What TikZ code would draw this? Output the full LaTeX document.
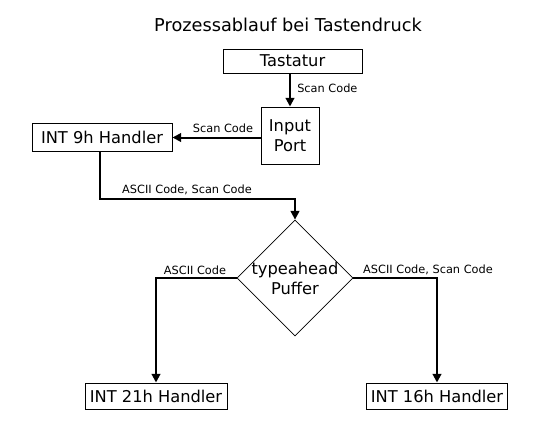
\documentclass[tikz,border=0pt]{standalone}
\usepackage{fontspec}
\setmainfont{DejaVu Sans}
\usetikzlibrary{shapes.geometric,arrows.meta}
\begin{document}
\begin{tikzpicture}[x=0.75pt,y=-0.75pt,
  box/.style={draw,line width=0.75pt,inner sep=0pt,align=center,font=\fontsize{12.2}{15}\selectfont},
  lbl/.style={inner sep=0pt,font=\fontsize{8.5}{10}\selectfont},
  conn/.style={line width=1.5pt,-{Triangle[length=6.5pt,width=6.5pt]}}]
\path[use as bounding box,fill=white] (0,0) rectangle (560,440);
\node[inner sep=0pt,font=\fontsize{13.3}{16}\selectfont] (title) at (288,25) {Prozessablauf bei Tastendruck};
\node[box,minimum width=139*0.75pt,minimum height=24*0.75pt] (tast) at (292.5,61) {Tastatur};
\node[box,minimum width=58*0.75pt,minimum height=57*0.75pt] (inp) at (290,135.5) {Input\\Port};
\node[box,minimum width=140*0.75pt,minimum height=28*0.75pt] (int9) at (102,137.5) {INT 9h Handler};
\node[draw,diamond,line width=0.6pt,inner sep=-4pt,align=center,minimum width=116*0.75pt,minimum height=116*0.75pt,font=\fontsize{12.2}{15}\selectfont] (buf) at (295,278) {typeahead\\Puffer};
\node[box,minimum width=142*0.75pt,minimum height=26*0.75pt] (int21) at (156,396) {INT 21h Handler};
\node[box,minimum width=141*0.75pt,minimum height=26*0.75pt] (int16) at (437,396) {INT 16h Handler};
\coordinate (c9) at (100,199);
\draw[conn] (tast.south -| inp.north) -- (inp.north);
\draw[conn] (inp.west |- int9.east) -- (int9.east);
\draw[conn] (int9.south -| c9) -- (c9) -| (buf.north);
\draw[conn] (buf.west) -| (int21.north);
\draw[conn] (buf.east) -| (int16.north);
\node[lbl,anchor=west] (l1) at (297,88) {Scan Code};
\node[lbl] (l2) at (223,128) {Scan Code};
\node[lbl] (l3) at (187,190) {ASCII Code, Scan Code};
\node[lbl] (l4) at (195,270) {ASCII Code};
\node[lbl] (l5) at (428,270) {ASCII Code, Scan Code};
\end{tikzpicture}
\end{document}
